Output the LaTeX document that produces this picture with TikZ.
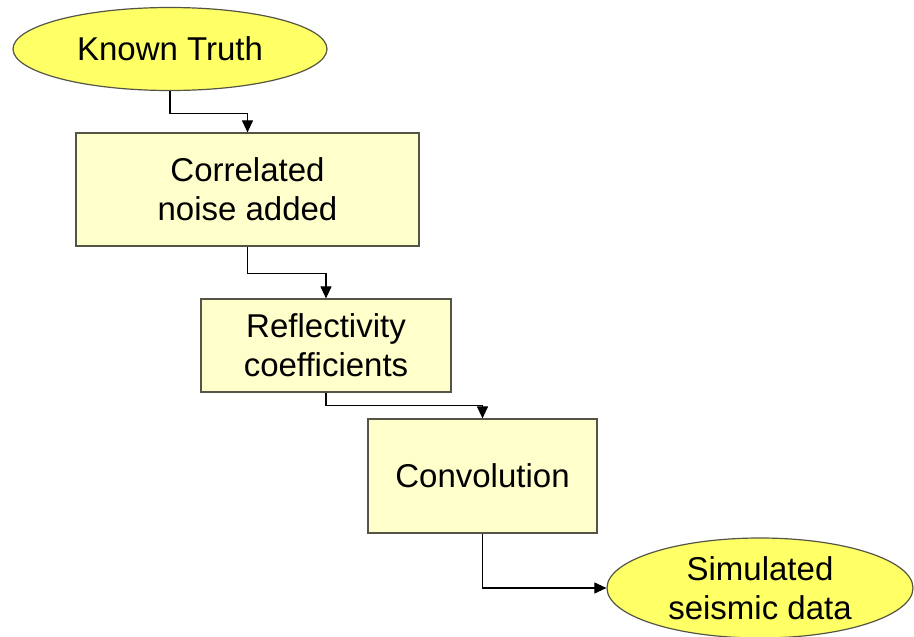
\documentclass[tikz,border=0pt]{standalone}
\usepackage{fontspec}
\setmainfont{Liberation Sans}
\usetikzlibrary{shapes.geometric, arrows.meta}
\definecolor{ovalYellow}{RGB}{255, 255, 102}
\definecolor{boxCream}{RGB}{255, 255, 204}
\definecolor{edgeGray}{RGB}{85, 85, 70}

\begin{document}
\begin{tikzpicture}[x=1pt, y=-1pt,
    ovalnode/.style={ellipse, draw=edgeGray, line width=1.2pt, fill=ovalYellow,
      inner sep=0pt, align=center, font=\fontsize{33}{39}\selectfont},
    boxnode/.style={rectangle, draw=edgeGray, line width=1.2pt, fill=boxCream,
      inner sep=0pt, align=center, font=\fontsize{33}{39}\selectfont},
    flowarrow/.style={-{Triangle[length=12pt,width=11pt]}, line width=1.1pt}]
      \useasboundingbox (0,0) rectangle (914,637);
      \clip (0,0) rectangle (914,637);
      \node[ovalnode, minimum width=314pt, minimum height=83pt] (known) at (170,49) {Known Truth};
      \node[boxnode, minimum width=343pt, minimum height=113pt] (noise) at (247.5,189.5) {Correlated\\noise added};
      \node[boxnode, minimum width=250pt, minimum height=93pt] (refl) at (326,345.5) {Reflectivity\\coefficients};
      \node[boxnode, minimum width=229pt, minimum height=114pt] (conv) at (482.5,476) {Convolution};
      \node[ovalnode, minimum width=306pt, minimum height=100pt] (sim) at (760,588) {Simulated\\seismic data};
      \draw[flowarrow] (known.south) -- ++(0,22) -| (noise.north);
      \draw[flowarrow] (noise.south) -- ++(0,27) -| (refl.north);
      \draw[flowarrow] (refl.south) -- ++(0,13) -| (conv.north);
      \draw[flowarrow] (conv.south) |- (sim.west);
    \end{tikzpicture}
\end{document}
